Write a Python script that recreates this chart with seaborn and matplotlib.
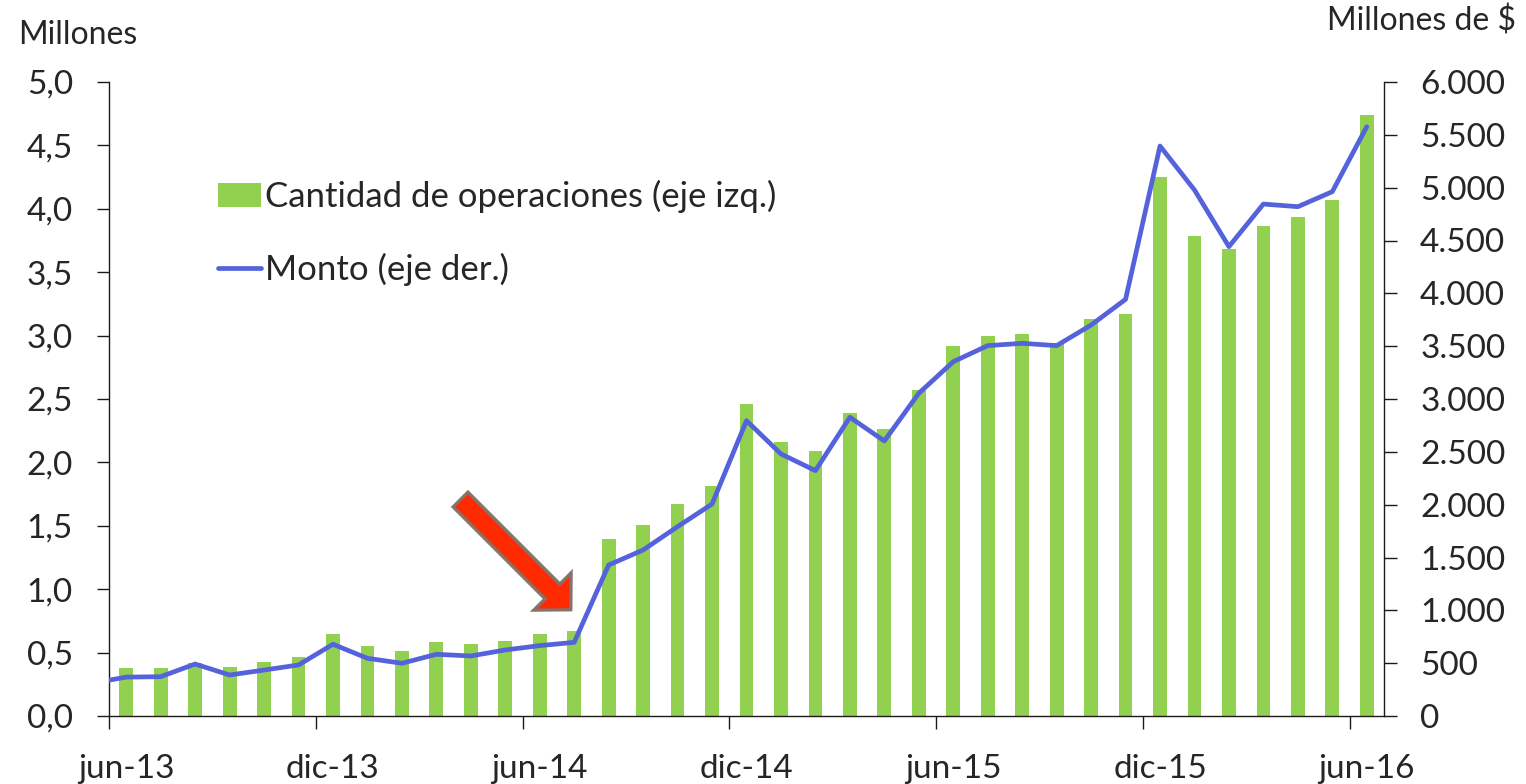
import numpy as np
import pandas as pd
import matplotlib
matplotlib.use("Agg")
import matplotlib.pyplot as plt
import seaborn as sns
from matplotlib.patches import Patch, Polygon
from matplotlib.lines import Line2D

# ---------------- data ----------------
meses = ["jun-13", "jul-13", "ago-13", "sep-13", "oct-13", "nov-13",
         "dic-13", "ene-14", "feb-14", "mar-14", "abr-14", "may-14",
         "jun-14", "jul-14", "ago-14", "sep-14", "oct-14", "nov-14",
         "dic-14", "ene-15", "feb-15", "mar-15", "abr-15", "may-15",
         "jun-15", "jul-15", "ago-15", "sep-15", "oct-15", "nov-15",
         "dic-15", "ene-16", "feb-16", "mar-16", "abr-16", "may-16",
         "jun-16"]

# Cantidad de operaciones (millones, eje izq.)
cantidad = [0.376, 0.381, 0.42, 0.389, 0.426, 0.465, 0.644, 0.552, 0.51,
            0.586, 0.565, 0.594, 0.647, 0.67, 1.396, 1.504, 1.672, 1.814,
            2.46, 2.158, 2.087, 2.387, 2.266, 2.571, 2.918, 2.994, 3.015,
            2.94, 3.131, 3.168, 4.25, 3.788, 3.683, 3.867, 3.938, 4.069,
            4.742]

# Monto (millones de $, eje der.); the series starts one month earlier
# (may-13), whose point falls outside the plotting area and is clipped.
monto_may13 = 310
monto = [368, 372, 492, 388, 435, 483, 679, 546, 499, 584, 568, 625, 666,
         697, 1429, 1571, 1792, 2006, 2795, 2480, 2322, 2827, 2603, 3054,
         3353, 3505, 3527, 3505, 3700, 3943, 5394, 4978, 4442, 4845, 4820,
         4962, 5577]

left_ticks = [0.0, 0.5, 1.0, 1.5, 2.0, 2.5, 3.0, 3.5, 4.0, 4.5, 5.0]
left_labels = ["0,0", "0,5", "1,0", "1,5", "2,0", "2,5", "3,0", "3,5",
               "4,0", "4,5", "5,0"]
right_ticks = [0, 500, 1000, 1500, 2000, 2500, 3000, 3500, 4000, 4500,
               5000, 5500, 6000]
right_labels = ["0", "500", "1.000", "1.500", "2.000", "2.500", "3.000",
                "3.500", "4.000", "4.500", "5.000", "5.500", "6.000"]

label_bars = "Cantidad de operaciones (eje izq.)"
label_line = "Monto (eje der.)"

# ---------------- style ----------------
GREEN = "#92D050"
BLUE = "#5463DB"
W, H = 1526, 784
FS = 24

sns.set_style("ticks")
plt.rcParams["font.family"] = ["Lato", "DejaVu Sans"]
plt.rcParams["axes.linewidth"] = 1.0
plt.rcParams["axes.edgecolor"] = "#1a1a1a"

fig = plt.figure(figsize=(W / 100, H / 100), dpi=100)
ax = fig.add_axes([109 / W, 1 - 716 / H, (1384 - 109) / W, (716 - 82) / H])

df = pd.DataFrame({"mes": meses, "cantidad": cantidad})
sns.barplot(data=df, x="mes", y="cantidad", order=meses, ax=ax,
            color=GREEN, saturation=1, width=0.4, linewidth=0)

ax2 = ax.twinx()
line_x = np.arange(-1, len(meses))
line_y = [monto_may13] + monto
sns.lineplot(x=line_x, y=line_y, ax=ax2, color=BLUE, linewidth=3.4,
             sort=False, legend=False)

n = len(meses)
ax.set_xlim(-0.5, n - 0.5)
ax.set_ylim(0, 5)
ax2.set_ylim(0, 6000)

# x axis: ticks at category boundaries every 6 months, labels at centres
ax.set_xticks(np.arange(-0.5, n, 6))
ax.set_xticklabels([])
ax.set_xticks(np.arange(0, n, 6), minor=True)
ax.set_xticklabels(meses[::6], minor=True)
ax.tick_params(axis="x", which="major", length=9, width=1.0,
               direction="out", color="#1a1a1a")
ax.tick_params(axis="x", which="minor", length=0, pad=27, labelsize=FS)
ax.set_xlabel("")

ax.set_yticks(left_ticks)
ax.set_yticklabels(left_labels)
ax.tick_params(axis="y", length=9, width=1.0, pad=17, labelsize=FS,
               direction="out", color="#1a1a1a")
ax.set_ylabel("")

ax2.set_yticks(right_ticks)
ax2.set_yticklabels(right_labels)
ax2.tick_params(axis="y", length=9, width=1.0, pad=17, labelsize=FS,
                direction="out", color="#1a1a1a")
ax2.set_ylabel("")

for a in (ax, ax2):
    a.spines["top"].set_visible(False)
ax.spines["right"].set_visible(False)
ax2.spines["left"].set_visible(False)
ax2.spines["bottom"].set_visible(False)

# axis unit labels
fig.text(18 / W, 1 - 44 / H, "Millones", ha="left", va="baseline",
         fontsize=23)
fig.text(1516 / W, 1 - 31 / H, "Millones de $", ha="right",
         va="baseline", fontsize=23)

# legend
handles = [Patch(facecolor=GREEN, edgecolor="none"),
           Line2D([0], [0], color=BLUE, linewidth=3.4)]
fig.legend(handles, [label_bars, label_line], loc="upper left",
           bbox_to_anchor=(218 / W, 1 - 180 / H), frameon=False,
           fontsize=25, borderpad=0, borderaxespad=0, handlelength=1.24,
           handleheight=0.66, handletextpad=0.12, labelspacing=1.13)

# red block arrow (annotation)
T = np.array([460.5, 499.5])
u = np.array([1.0, 1.0]) / np.sqrt(2)
nv = np.array([1.0, -1.0]) / np.sqrt(2)
L, hw_s, hw_h, hl = 156.0, 10.5, 26.5, 26.0
pts = [T + hw_s * nv,
       T + (L - hl) * u + hw_s * nv,
       T + (L - hl) * u + hw_h * nv,
       T + L * u,
       T + (L - hl) * u - hw_h * nv,
       T + (L - hl) * u - hw_s * nv,
       T - hw_s * nv]
pts_fig = [(p[0] / W, 1 - p[1] / H) for p in pts]
arrow = Polygon(pts_fig, closed=True, transform=fig.transFigure,
                facecolor="#FF2B00", edgecolor="#86736B", linewidth=2.3,
                joinstyle="miter", zorder=10)
fig.add_artist(arrow)

fig.savefig("out.png", dpi=100)
